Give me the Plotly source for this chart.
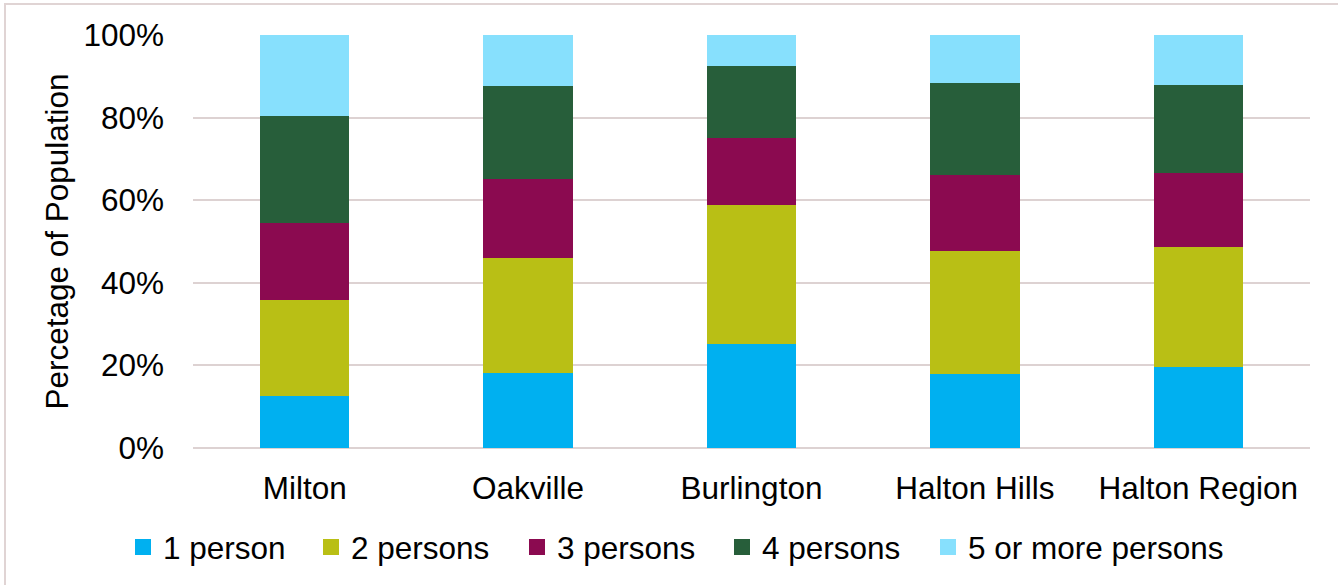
import plotly.graph_objects as go

categories = ["Milton", "Oakville", "Burlington", "Halton Hills", "Halton Region"]
series_names = ["1 person", "2 persons", "3 persons", "4 persons", "5 or more persons"]
one_person = [12.5, 18.1, 25.1, 17.9, 19.5]
two_persons = [23.4, 28.0, 33.8, 29.9, 29.2]
three_persons = [18.6, 19.0, 16.1, 18.2, 17.9]
four_persons = [25.8, 22.5, 17.4, 22.3, 21.4]
five_plus = [19.7, 12.4, 7.6, 11.7, 12.0]
tick_vals = [0, 20, 40, 60, 80, 100]
tick_text = ["0%", "20%", "40%", "60%", "80%", "100%"]

colors = ["#00B0F0", "#B9BF15", "#8B0A50", "#275E3A", "#87E0FD"]
series = [one_person, two_persons, three_persons, four_persons, five_plus]
legend_px = [123, 311, 517, 722, 928]  # left edge of each legend entry (px)

W, H = 1338, 585
L, R, T, B = 193, 28, 35, 136
FONT = "Liberation Sans, Arial, sans-serif"
FS = 31.5

pw = W - L - R
ph = H - T - B

fig = go.Figure()
for name, vals, c in zip(series_names, series, colors):
    fig.add_trace(go.Bar(x=categories, y=vals, name=name, marker_color=c,
                         marker_line_width=0, width=0.4, showlegend=False))

legend_layout = {}
for i, (name, c, lx) in enumerate(zip(series_names, colors, legend_px)):
    key = "legend" if i == 0 else f"legend{i + 1}"
    fig.add_trace(go.Scatter(x=[None], y=[None], mode="markers", name=name,
                             marker=dict(symbol="square", size=16, color=c),
                             showlegend=True, hoverinfo="skip", legend=key))
    legend_layout[key] = dict(orientation="h", x=(lx - L) / pw, xanchor="left",
                              y=-(547 - (H - B)) / ph, yanchor="middle",
                              font=dict(size=FS, family=FONT), itemwidth=30,
                              bgcolor="rgba(0,0,0,0)")

fig.update_layout(
    width=W, height=H, barmode="stack",
    margin=dict(l=L, r=R, t=T, b=B, pad=0),
    paper_bgcolor="white", plot_bgcolor="white",
    font=dict(family=FONT, size=FS, color="#000000"),
    showlegend=True,
    xaxis=dict(showgrid=False, showline=False, ticks="", ticklabelstandoff=18,
               tickfont=dict(size=FS)),
    yaxis=dict(range=[0, 100], tickvals=tick_vals, ticktext=tick_text,
               showgrid=True, gridcolor="#DDD2D2", gridwidth=1.5,
               zeroline=True, zerolinecolor="#DDD2D2", zerolinewidth=1.5,
               ticks="", ticklabelstandoff=28, tickfont=dict(size=FS),
               title=dict(text="Percetage of Population", font=dict(size=FS), standoff=5)),
    shapes=[dict(type="rect", xref="paper", yref="paper",
                 x0=(5 - L) / pw, x1=(W + 20 - L) / pw,
                 y0=-(H + 20 - (H - B)) / ph, y1=((H - B) - 4) / ph,
                 line=dict(color="#E0D4D4", width=2), fillcolor="rgba(0,0,0,0)", layer="below")],
    **legend_layout,
)

fig.write_html("out.html")
